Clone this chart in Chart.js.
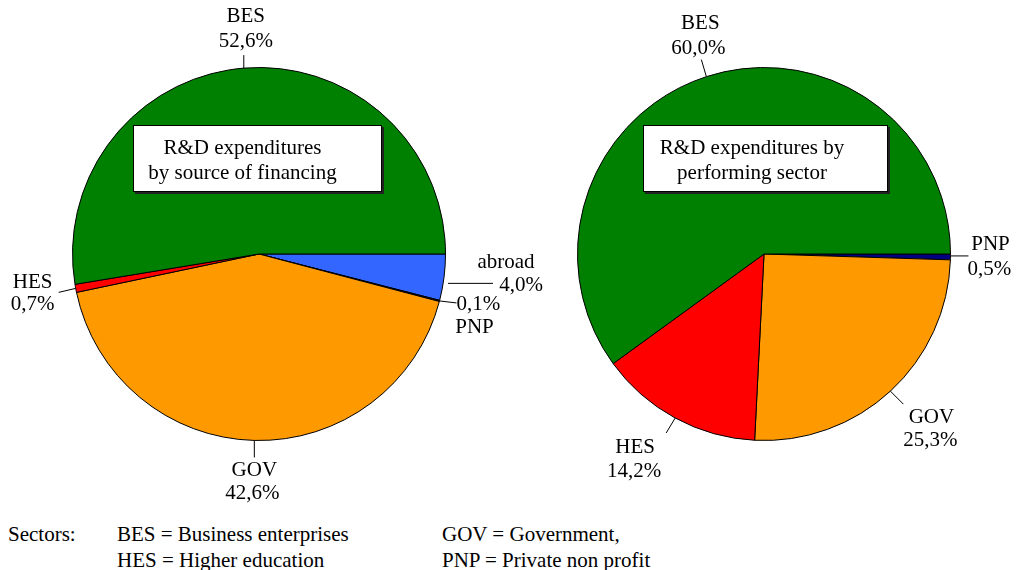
<!DOCTYPE html>
<html>
<head>
<meta charset="utf-8">
<script src="https://cdn.jsdelivr.net/npm/chart.js@4.4.1/dist/chart.umd.min.js"></script>
<style>
  body { margin: 0; background: #fff; width: 1017px; height: 570px; overflow: hidden; position: relative;
         font-family: "Times New Roman", serif; color: #000; }
  .wrap { position: absolute; top: 0; height: 510px; }
  .box { position: absolute; background: #fff; border: 1px solid #000; box-shadow: 2px 2px 0 #222;
         font-size: 21px; line-height: 25px; text-align: center; box-sizing: border-box; padding-top: 9px; white-space: nowrap; }
  .foot { position: absolute; font-size: 21px; line-height: 26px; white-space: nowrap; }
</style>
</head>
<body>
<div class="wrap" style="left:0;width:570px"><canvas id="srcChart"></canvas></div>
<div class="wrap" style="left:570px;width:447px"><canvas id="perfChart"></canvas></div>

<div class="box" style="left:133px;top:125px;width:249px;height:67px;padding-right:30px">R&amp;D expenditures<br>by source of financing</div>
<div class="box" style="left:643px;top:125px;width:245px;height:67px;padding-right:27px">R&amp;D expenditures by<br>performing sector</div>

<div class="foot" style="left:8px;top:521px">Sectors:</div>
<div class="foot" style="left:117px;top:521px">BES = Business enterprises<br>HES = Higher education</div>
<div class="foot" style="left:442px;top:521px">GOV = Government,<br>PNP = Private non profit</div>

<script>
// source of financing
const srcLabels = ['abroad', 'PNP', 'GOV', 'HES', 'BES'];
const srcValues = [4.0, 0.1, 42.6, 0.7, 52.6];
// performing sector
const perfLabels = ['PNP', 'GOV', 'HES', 'BES'];
const perfValues = [0.5, 25.3, 14.2, 60.0];

const srcColors = ['#3366ff', '#000080', '#ff9900', '#ff0000', '#008000'];
const perfColors = ['#000080', '#ff9900', '#ff0000', '#008000'];

// label placement relative to the point where the slice's mid angle meets the rim
const srcSpots = [
  { lead: [4, 6, 49, 6], t1: [62, -15], t2: [77, 8] },
  { lead: [0, 0, 17, 2], t1: [35, 27], t2: [39, 4] },
  { lead: [0, 0, 0, 17], t1: [0, 30], t2: [-2, 53] },
  { lead: [0, 0, -17, 4], t1: [-43, -6], t2: [-43, 16] },
  { lead: [0, 0, 0, -13], t1: [2, -52], t2: [2, -27] }
];
const perfSpots = [
  { lead: [0, -1, 18, -1], t1: [40, -12], t2: [39, 13] },
  { lead: [0, 0, 13, 13], t1: [41, 26], t2: [40, 49] },
  { lead: [0, 0, -9, 15], t1: [-40, 29], t2: [-41, 53] },
  { lead: [0, 0, -5, -17], t1: [-6, -53], t2: [-8, -28] }
];

const labelFont = '21px "Times New Roman", serif';

function sliceLabels(spots) {
  return {
    id: 'sliceLabels',
    afterDatasetsDraw(chart) {
      const ctx = chart.ctx;
      const meta = chart.getDatasetMeta(0);
      const values = chart.data.datasets[0].data;
      ctx.save();
      ctx.font = labelFont;
      ctx.textAlign = 'center';
      ctx.textBaseline = 'middle';
      ctx.fillStyle = '#000';
      ctx.strokeStyle = '#000';
      ctx.lineWidth = 1;
      meta.data.forEach((arc, i) => {
        const p = arc.getProps(['x', 'y', 'startAngle', 'endAngle', 'outerRadius'], true);
        const mid = (p.startAngle + p.endAngle) / 2;
        const ex = p.x + Math.cos(mid) * p.outerRadius;
        const ey = p.y + Math.sin(mid) * p.outerRadius;
        const s = spots[i];
        ctx.beginPath();
        ctx.moveTo(ex + s.lead[0], ey + s.lead[1]);
        ctx.lineTo(ex + s.lead[2], ey + s.lead[3]);
        ctx.stroke();
        const pct = values[i].toFixed(1).replace('.', ',') + '%';
        ctx.fillText(chart.data.labels[i], ex + s.t1[0], ey + s.t1[1]);
        ctx.fillText(pct, ex + s.t2[0], ey + s.t2[1]);
      });
      ctx.restore();
    }
  };
}

function makePie(id, labels, values, colors, spots, pad) {
  new Chart(document.getElementById(id), {
    type: 'pie',
    data: {
      labels: labels,
      datasets: [{
        data: values,
        backgroundColor: colors,
        borderColor: '#000',
        borderWidth: 1,
        hoverBorderWidth: 1,
        hoverOffset: 0
      }]
    },
    options: {
      responsive: true,
      maintainAspectRatio: false,
      animation: false,
      events: [],
      rotation: 90,
      layout: { padding: pad },
      plugins: { legend: { display: false }, tooltip: { enabled: false } }
    },
    plugins: [sliceLabels(spots)]
  });
}

makePie('srcChart', srcLabels, srcValues, srcColors, srcSpots, { left: 72, top: 67, right: 124, bottom: 69 });
makePie('perfChart', perfLabels, perfValues, perfColors, perfSpots, { left: 7, top: 67, right: 66, bottom: 69 });
</script>
</body>
</html>
